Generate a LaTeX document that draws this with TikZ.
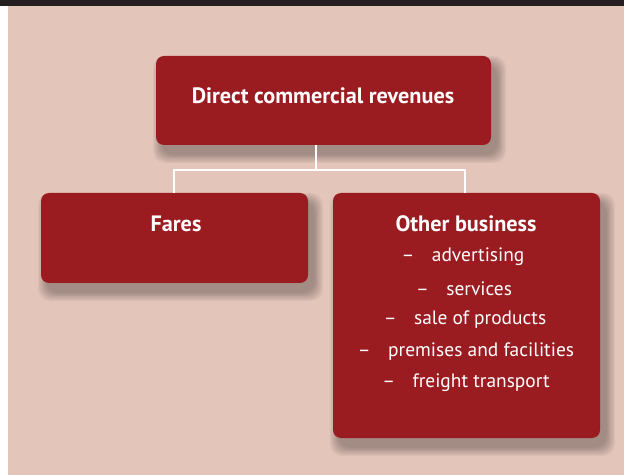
\documentclass[tikz,border=0pt]{standalone}
\usepackage{fontspec}
\setmainfont{PT Sans}
\definecolor{bgpink}{HTML}{E3C5BA}
\definecolor{boxred}{HTML}{9A1B20}
\definecolor{topbar}{HTML}{231F20}
\tikzset{
  redbox/.style={fill=boxred, draw=none, rounded corners=8bp},
  boxtext/.style={text=white, font=\fontsize{19.5}{22}\selectfont, align=center, inner sep=0pt},
  titletext/.style={text=white, font=\bfseries\fontsize{22.3}{26}\selectfont, inner sep=0pt},
  conn/.style={draw=white, line width=2.2bp}
}
\newcommand{\softshadow}[4]{%
  \foreach \k in {0,...,7}{
    \fill[black, opacity=0.04, rounded corners=12bp]
      ({#1+6-9+\k*1.2},{#2+9-9+\k*1.2}) rectangle ({#3+6+9-\k*1.2},{#4+9+9-\k*1.2});
  }%
}
\begin{document}
\begin{tikzpicture}[x=1bp,y=-1bp]
\useasboundingbox (0,0) rectangle (624,475);
\fill[white] (0,0) rectangle (624,475);
\fill[bgpink] (8,0) rectangle (624,475);
\fill[topbar] (0,0) rectangle (624,6);
% shadows
\softshadow{156}{56}{491}{145}
\softshadow{41}{193}{308}{283}
\softshadow{333}{193}{600}{438}
% boxes
\path[redbox] (156,56) rectangle (491,145);
\path[redbox] (41,193) rectangle (308,283);
\path[redbox] (333,193) rectangle (600,438);
\coordinate (top) at (316,145);
\coordinate (j) at (316,170);
\coordinate (jl) at (174,170);
\coordinate (jr) at (465,170);
\coordinate (fa) at (174,193);
\coordinate (ob) at (465,193);
\draw[conn] (top) -- (j);
\draw[conn] (fa) -- (jl) -- (jr) -- (ob);
% texts
\node[titletext] (t1) at (323,96) {Direct commercial revenues};
\node[titletext] (t2) at (176,224) {Fares};
\node[titletext] (t3) at (466,224) {Other business};
\node[boxtext] (i1) at (463,257) {–\hspace{0.9em}advertising};
\node[boxtext] (i2) at (464,289) {–\hspace{0.9em}services};
\node[boxtext] (i3) at (465,320) {–\hspace{0.9em}sale of products};
\node[boxtext] (i4) at (466,352) {–\hspace{0.9em}premises and facilities};
\node[boxtext] (i5) at (466,383) {–\hspace{0.9em}freight transport};
\end{tikzpicture}
\end{document}
